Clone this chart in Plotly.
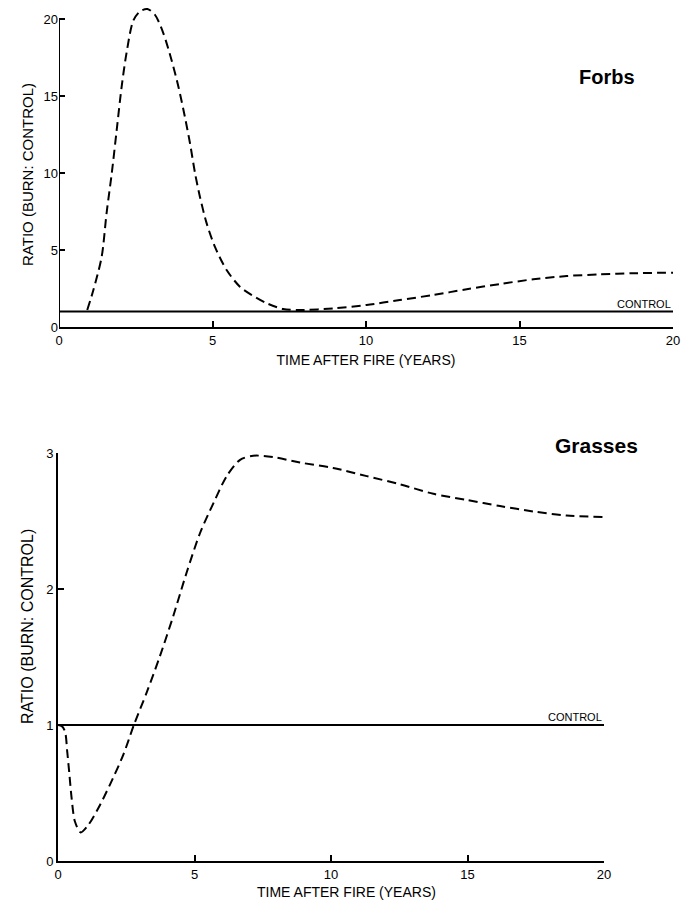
import plotly.graph_objects as go

# ---- Data ----
forbs_years = [0.92, 1.12, 1.39, 1.55, 1.72, 1.88, 2.04, 2.2, 2.42, 2.64, 2.88, 3.13, 3.4, 3.67,
               3.89, 4.1, 4.27, 4.43, 4.59, 4.81, 5.08, 5.46, 5.9, 6.3, 6.77, 7.3, 7.85, 8.93,
               10.02, 11.1, 12.19, 13.28, 14.36, 15.45, 16.54, 17.62, 18.71, 20.0]
forbs_ratio = [1.1, 2.4, 4.56, 7.4, 10.0, 12.8, 15.6, 17.8, 19.9, 20.5, 20.65, 20.26, 19.07, 17.3,
               15.6, 13.65, 11.9, 10.0, 8.46, 6.73, 5.2, 3.7, 2.6, 2.05, 1.54, 1.17, 1.1, 1.21,
               1.43, 1.75, 2.08, 2.45, 2.79, 3.1, 3.31, 3.42, 3.49, 3.53]

grass_years = [0.0, 0.15, 0.26, 0.34, 0.41, 0.5, 0.62, 0.83, 1.11, 1.48, 1.9, 2.39, 2.78, 3.25,
               3.74, 4.22, 4.71, 5.2, 5.69, 6.18, 6.67, 7.15, 7.89, 8.86, 10.08, 11.31, 12.53,
               13.75, 14.97, 16.19, 17.41, 18.63, 20.0]
grass_ratio = [1.0, 0.99, 0.95, 0.8, 0.655, 0.46, 0.29, 0.21, 0.265, 0.39, 0.56, 0.78, 1.0, 1.24,
               1.51, 1.8, 2.12, 2.41, 2.63, 2.83, 2.95, 2.98, 2.97, 2.93, 2.89, 2.83, 2.77,
               2.70, 2.655, 2.61, 2.57, 2.54, 2.53]

control_years = [0, 20]
control_ratio = [1, 1]

x_ticks = [0, 5, 10, 15, 20]
forbs_y_ticks = [0, 5, 10, 15, 20]
grass_y_ticks = [0, 1, 2, 3]

FONT = "Liberation Sans, Arial, sans-serif"
W, H = 691, 903

# pixel layout of the two panels (screen pixels)
TOP_Y0, TOP_Y20 = 327, 19
FORBS_YMAX = 20.9                       # headroom so the peak above 20 is not clipped
top_px_per_unit = (TOP_Y0 - TOP_Y20) / 20.0
top_domain_top = TOP_Y0 - FORBS_YMAX * top_px_per_unit


def px_x(p):
    return p / W


def px_y(p):
    return 1 - p / H


fig = go.Figure()

dash_style = dict(color="black", width=2, dash="9px,5px")
ctrl_style = dict(color="black", width=2)

fig.add_trace(go.Scatter(x=forbs_years, y=forbs_ratio, mode="lines",
                         line=dict(shape="spline", smoothing=0.8, **dash_style),
                         xaxis="x", yaxis="y", showlegend=False, name="Forbs burn"))
fig.add_trace(go.Scatter(x=control_years, y=control_ratio, mode="lines", line=ctrl_style,
                         xaxis="x", yaxis="y", showlegend=False, name="Control"))
fig.add_trace(go.Scatter(x=grass_years, y=grass_ratio, mode="lines",
                         line=dict(shape="spline", smoothing=0.8, **dash_style),
                         xaxis="x2", yaxis="y2", showlegend=False, name="Grasses burn"))
fig.add_trace(go.Scatter(x=control_years, y=control_ratio, mode="lines", line=ctrl_style,
                         xaxis="x2", yaxis="y2", showlegend=False, name="Control"))

axis_common = dict(showgrid=False, zeroline=False, linecolor="black", linewidth=2,
                   ticks="inside", ticklen=6, tickwidth=1.5, tickcolor="black", automargin=False,
                   tickfont=dict(family=FONT, size=13, color="black"))

fig.update_layout(
    width=W, height=H,
    margin=dict(l=0, r=0, t=0, b=0),
    paper_bgcolor="white", plot_bgcolor="white",
    font=dict(family=FONT, color="black"),
    xaxis=dict(domain=[px_x(59), px_x(673)], range=[0, 20], tickvals=x_ticks, anchor="y", showline=True,
               title=dict(text="TIME AFTER FIRE (YEARS)", font=dict(family=FONT, size=14), standoff=9),
               **axis_common),
    yaxis=dict(domain=[px_y(TOP_Y0), px_y(top_domain_top)], range=[0, FORBS_YMAX], tickvals=forbs_y_ticks,
               anchor="x", showline=False, **axis_common),
    xaxis2=dict(domain=[px_x(58), px_x(604)], range=[0, 20], tickvals=x_ticks, anchor="y2", showline=True,
                **axis_common),
    yaxis2=dict(domain=[px_y(861), px_y(453)], range=[0, 3], tickvals=grass_y_ticks, anchor="x2",
                showline=True, **axis_common),
    shapes=[
        # forbs y-axis line drawn only up to the top tick (20)
        dict(type="line", xref="x", yref="y", x0=0, x1=0, y0=0, y1=forbs_y_ticks[-1],
             line=dict(color="black", width=2)),
    ],
    annotations=[
        dict(text="RATIO (BURN: CONTROL)", xref="paper", yref="paper", x=px_x(27), y=px_y(175),
             textangle=-90, showarrow=False, font=dict(family=FONT, size=15), xanchor="center", yanchor="middle"),
        dict(text="RATIO (BURN: CONTROL)", xref="paper", yref="paper", x=px_x(27), y=px_y(627),
             textangle=-90, showarrow=False, font=dict(family=FONT, size=16), xanchor="center", yanchor="middle"),
        dict(text="TIME AFTER FIRE (YEARS)", xref="paper", yref="paper", x=px_x(346), y=px_y(892),
             showarrow=False, font=dict(family=FONT, size=14), xanchor="center", yanchor="middle"),
        dict(text="<b>Forbs</b>", xref="paper", yref="paper", x=px_x(637), y=px_y(77),
             showarrow=False, font=dict(family=FONT, size=20), xanchor="right", yanchor="middle"),
        dict(text="<b>Grasses</b>", xref="paper", yref="paper", x=px_x(640), y=px_y(445),
             showarrow=False, font=dict(family=FONT, size=21), xanchor="right", yanchor="middle"),
        dict(text="CONTROL", xref="x", yref="y", x=20, y=1, xanchor="right", yanchor="bottom",
             showarrow=False, font=dict(family=FONT, size=11)),
        dict(text="CONTROL", xref="x2", yref="y2", x=20, y=1, xanchor="right", yanchor="bottom",
             showarrow=False, font=dict(family=FONT, size=11)),
    ],
)

# remove the page's default body margin so the figure fills the 691x903 window exactly
fig.write_html("out.html", config={"displayModeBar": False},
               post_script="document.body.style.margin='0';document.body.style.overflow='hidden';")
